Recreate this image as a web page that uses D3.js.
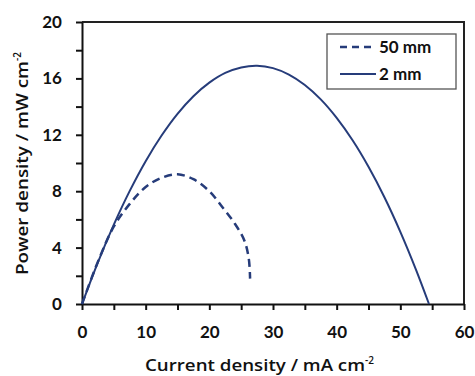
<!DOCTYPE html>
<html>
<head>
<meta charset="utf-8">
<script src="https://cdn.jsdelivr.net/npm/d3@7"></script>
<style>
  body { margin: 0; background: #fff; }
  svg { display: block; }
</style>
</head>
<body>
<div id="chart"></div>
<script>
// current density (mA cm-2) vs power density (mW cm-2)
const thinJ = [0, 2.5, 5, 7.5, 10, 12.5, 15, 17.5, 20, 22.5, 25, 27.5, 30, 32.5, 35, 37.5, 40, 42.5, 45, 47.5, 50, 52.5, 54.5];
const thinP = [0, 2.96, 5.63, 8.02, 10.13, 11.95, 13.49, 14.74, 15.7, 16.39, 16.78, 16.9, 16.73, 16.27, 15.53, 14.51, 13.2, 11.61, 9.73, 7.57, 5.12, 2.39, 0];
const thickJ = [0, 2.5, 5, 7.5, 10, 12.5, 15, 17.5, 20, 22, 24, 25.5, 26.2, 26.4];
const thickP = [0, 3.0, 5.5, 7.1, 8.3, 8.95, 9.2, 8.85, 8.0, 6.9, 5.7, 4.5, 3.2, 1.8];

const seriesNames = ['50 mm', '2 mm'];
const xTicks = [0, 10, 20, 30, 40, 50, 60];
const yTicks = [0, 4, 8, 12, 16, 20];

const W = 475, H = 376;
const margin = { top: 22, right: 11, bottom: 72, left: 82 };
const iw = W - margin.left - margin.right;
const ih = H - margin.top - margin.bottom;
const lineColor = '#263c7a';
const font = 'Lato, "Open Sans", sans-serif';
const titleFont = '"Open Sans", Lato, sans-serif';

const svg = d3.select('#chart').append('svg').attr('width', W).attr('height', H);
const g = svg.append('g').attr('transform', `translate(${margin.left},${margin.top})`);

const x = d3.scaleLinear().domain([0, 60]).range([0, iw]);
const y = d3.scaleLinear().domain([0, 20]).range([ih, 0]);

// frame (top + right)
g.append('path')
  .attr('d', `M0,0H${iw}V${ih}`)
  .attr('fill', 'none')
  .attr('stroke', '#222')
  .attr('stroke-width', 2);

const xAxis = d3.axisBottom(x)
  .tickValues(d3.range(0, 61, 5))
  .tickSize(6)
  .tickSizeOuter(0)
  .tickFormat((v) => (xTicks.includes(v) ? v : ''));
const gx = g.append('g').attr('transform', `translate(0,${ih})`).call(xAxis);

const yAxis = d3.axisLeft(y)
  .tickValues(d3.range(0, 21, 2))
  .tickSize(6)
  .tickSizeOuter(0)
  .tickFormat((v) => (yTicks.includes(v) ? v : ''));
const gy = g.append('g').call(yAxis);

[gx, gy].forEach((a) => {
  a.select('.domain').attr('stroke', '#111').attr('stroke-width', 2);
  a.selectAll('.tick line').attr('stroke', '#111').attr('stroke-width', 2);
  a.selectAll('.tick text')
    .attr('fill', '#111')
    .attr('font-size', 17)
    .attr('font-weight', 700)
    .attr('font-family', font);
});
gx.selectAll('.tick text').attr('dy', '1.45em');
gy.selectAll('.tick text').attr('dx', '-0.65em');

// curves
const line = d3.line().x((d) => x(d[0])).y((d) => y(d[1])).curve(d3.curveCatmullRom);

g.append('path')
  .datum(thinJ.map((j, i) => [j, thinP[i]]))
  .attr('d', line)
  .attr('fill', 'none')
  .attr('stroke', lineColor)
  .attr('stroke-width', 2);

g.append('path')
  .datum(thickJ.map((j, i) => [j, thickP[i]]))
  .attr('d', line)
  .attr('fill', 'none')
  .attr('stroke', lineColor)
  .attr('stroke-width', 2.5)
  .attr('stroke-dasharray', '8,5');

// legend
const legend = svg.append('g').attr('transform', 'translate(327,34)');
legend.append('rect')
  .attr('width', 129)
  .attr('height', 55)
  .attr('fill', '#fff')
  .attr('stroke', '#555')
  .attr('stroke-width', 1.3);
seriesNames.forEach((name, i) => {
  const row = legend.append('g').attr('transform', `translate(0,${13 + i * 27})`);
  row.append('line')
    .attr('x1', 13).attr('x2', 49)
    .attr('stroke', lineColor)
    .attr('stroke-width', i === 0 ? 2.5 : 2)
    .attr('stroke-dasharray', i === 0 ? '7,5' : null);
  row.append('text')
    .attr('x', 52)
    .attr('dy', '0.36em')
    .attr('fill', '#111')
    .attr('font-size', 17)
    .attr('font-weight', 700)
    .attr('font-family', font)
    .text(name);
});

// axis titles
const xt = svg.append('text')
  .attr('x', 145)
  .attr('y', 371)
  .attr('fill', '#111')
  .attr('font-size', 16)
  .attr('font-weight', 600)
  .attr('font-family', titleFont);
xt.append('tspan').attr('textLength', 220).attr('lengthAdjust', 'spacingAndGlyphs').text('Current density / mA cm');
xt.append('tspan').attr('font-size', 10).attr('dy', -7).text('-2');

const yt = svg.append('text')
  .attr('transform', 'translate(28,275) rotate(-90)')
  .attr('fill', '#111')
  .attr('font-size', 16)
  .attr('font-weight', 600)
  .attr('font-family', titleFont);
yt.append('tspan').attr('textLength', 214).attr('lengthAdjust', 'spacingAndGlyphs').text('Power density / mW cm');
yt.append('tspan').attr('font-size', 10).attr('dy', -7).text('-2');
</script>
</body>
</html>
